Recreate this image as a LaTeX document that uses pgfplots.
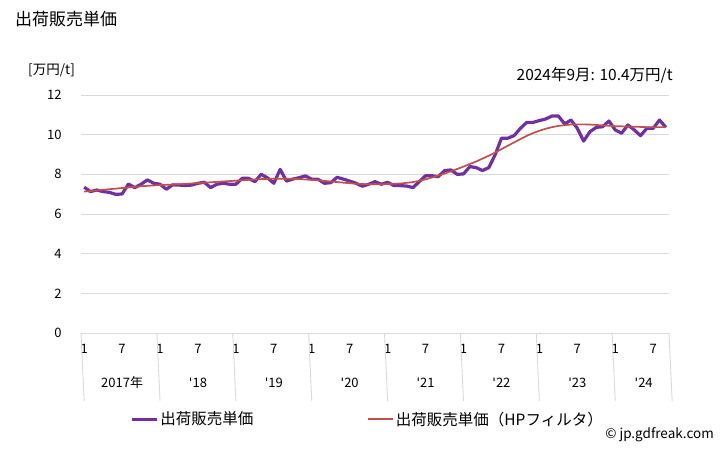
\documentclass[border=0pt]{standalone}
\usepackage{fontspec}
\setmainfont{Noto Sans CJK JP}
\newfontfamily\dvfont{DejaVu Sans}
\usepackage{pgfplots}
\usepackage{pgfplotstable}
\pgfplotsset{compat=1.18}

\definecolor{price}{HTML}{7030A0}
\definecolor{hp}{HTML}{C0504D}
\definecolor{gridc}{HTML}{D9D9D9}

\newcommand{\yr}[1]{{\dvfont\symbol{39}}#1}

% month index (0 = 2017/1), price, HP filter trend
\pgfplotstableread{
m  p      t
0  7.35   7.13
1  7.13   7.16
2  7.21   7.19
3  7.13   7.22
4  7.09   7.25
5  6.99   7.28
6  7.01   7.31
7  7.51   7.34
8  7.33   7.37
9  7.50   7.40
10 7.72   7.42
11 7.55   7.44
12 7.50   7.46
13 7.25   7.47
14 7.47   7.48
15 7.46   7.50
16 7.43   7.52
17 7.46   7.54
18 7.55   7.56
19 7.60   7.58
20 7.33   7.60
21 7.50   7.62
22 7.55   7.64
23 7.50   7.66
24 7.50   7.68
25 7.80   7.70
26 7.80   7.72
27 7.63   7.74
28 8.00   7.76
29 7.82   7.77
30 7.55   7.78
31 8.25   7.78
32 7.66   7.78
33 7.76   7.77
34 7.83   7.76
35 7.92   7.74
36 7.75   7.72
37 7.75   7.70
38 7.55   7.67
39 7.58   7.64
40 7.85   7.61
41 7.76   7.58
42 7.66   7.55
43 7.55   7.53
44 7.40   7.51
45 7.50   7.50
46 7.63   7.50
47 7.50   7.50
48 7.60   7.51
49 7.43   7.52
50 7.43   7.54
51 7.41   7.57
52 7.33   7.61
53 7.63   7.67
54 7.93   7.75
55 7.93   7.84
56 7.88   7.94
57 8.19   8.04
58 8.22   8.15
59 8.00   8.27
60 8.02   8.39
61 8.39   8.52
62 8.34   8.65
63 8.19   8.79
64 8.34   8.94
65 8.98   9.10
66 9.82   9.27
67 9.82   9.44
68 9.95   9.61
69 10.32  9.78
70 10.62  9.94
71 10.62  10.08
72 10.71  10.20
73 10.79  10.30
74 10.94  10.38
75 10.94  10.44
76 10.54  10.48
77 10.74  10.51
78 10.32  10.52
79 9.68   10.52
80 10.15  10.51
81 10.37  10.49
82 10.40  10.47
83 10.69  10.45
84 10.24  10.43
85 10.07  10.42
86 10.49  10.41
87 10.24  10.40
88 9.95   10.39
89 10.32  10.38
90 10.32  10.38
91 10.74  10.38
92 10.37  10.38
}\pricedata

\begin{document}
\begin{tikzpicture}[x=1pt,y=1pt]
\path[use as bounding box] (0,0) rectangle (728,450);
\node[anchor=west, inner sep=0pt, font=\fontsize{17}{20}\selectfont] at (15,431) {出荷販売単価};
\node[anchor=west, inner sep=0pt, font=\fontsize{13.5}{16}\selectfont] at (28,380) {[万円/t]};
\node[anchor=east, inner sep=0pt, font=\fontsize{15.5}{18}\selectfont] at (673,375) {2024年9月: 10.4万円/t};
\node[anchor=east, inner sep=0pt, font=\fontsize{13.5}{16}\selectfont] at (714,15) {© jp.gdfreak.com};

\begin{axis}[
  at={(81pt,117pt)}, anchor=south west, scale only axis,
  width=588pt, height=238pt,
  xmin=-0.5, xmax=92.5, ymin=0, ymax=12,
  ytick={0,2,...,12},
  xtick={0,6,...,90},
  xticklabels={1,7,1,7,1,7,1,7,1,7,1,7,1,7,1,7},
  ymajorgrids, grid style={draw=gridc, line width=0.9pt},
  axis line style={draw=none},
  major tick length=0pt,
  /pgf/number format/assume math mode=true,
  ticklabel style={font=\fontsize{13}{15}\selectfont},
  yticklabel style={anchor=east, xshift=-16pt},
  xticklabel style={anchor=center, yshift=-16pt},
  clip=false,
  legend columns=2,
  legend style={draw=none, fill=none, at={(axis description cs:0.078,-0.362)}, anchor=west,
    font=\fontsize{15.5}{18}\selectfont,
    /tikz/every even column/.append style={column sep=112pt}},
  legend image code/.code={\draw[#1] (0pt,0pt) -- (25pt,0pt);},
]
\addplot[price, line width=3.2pt, line join=round] table[x=m, y=p] {\pricedata};
\addlegendentry{出荷販売単価}
\addplot[hp, line width=1.7pt, line join=round] table[x=m, y=t] {\pricedata};
\addlegendentry{出荷販売単価（HPフィルタ）}

\draw[gridc, line width=0.9pt] (axis cs:-0.5,0) -- (axis cs:92.5,0);
\draw[gridc, line width=0.9pt] (axis cs:-0.5,0) -- ++(0,-68pt);
\draw[gridc, line width=0.9pt] (axis cs:11.5,0) -- ++(0,-68pt);
\draw[gridc, line width=0.9pt] (axis cs:23.5,0) -- ++(0,-68pt);
\draw[gridc, line width=0.9pt] (axis cs:35.5,0) -- ++(0,-68pt);
\draw[gridc, line width=0.9pt] (axis cs:47.5,0) -- ++(0,-68pt);
\draw[gridc, line width=0.9pt] (axis cs:59.5,0) -- ++(0,-68pt);
\draw[gridc, line width=0.9pt] (axis cs:71.5,0) -- ++(0,-68pt);
\draw[gridc, line width=0.9pt] (axis cs:83.5,0) -- ++(0,-68pt);
\draw[gridc, line width=0.9pt] (axis cs:92.5,0) -- ++(0,-68pt);

\path[font=\fontsize{13}{15}\selectfont]
  (axis cs:5.5,0)  ++(0,-50pt) node {2017年}
  (axis cs:17.5,0) ++(0,-50pt) node {\yr{18}}
  (axis cs:29.5,0) ++(0,-50pt) node {\yr{19}}
  (axis cs:41.5,0) ++(0,-50pt) node {\yr{20}}
  (axis cs:53.5,0) ++(0,-50pt) node {\yr{21}}
  (axis cs:65.5,0) ++(0,-50pt) node {\yr{22}}
  (axis cs:77.5,0) ++(0,-50pt) node {\yr{23}}
  (axis cs:88,0)   ++(0,-50pt) node {\yr{24}};
\end{axis}
\end{tikzpicture}
\end{document}
